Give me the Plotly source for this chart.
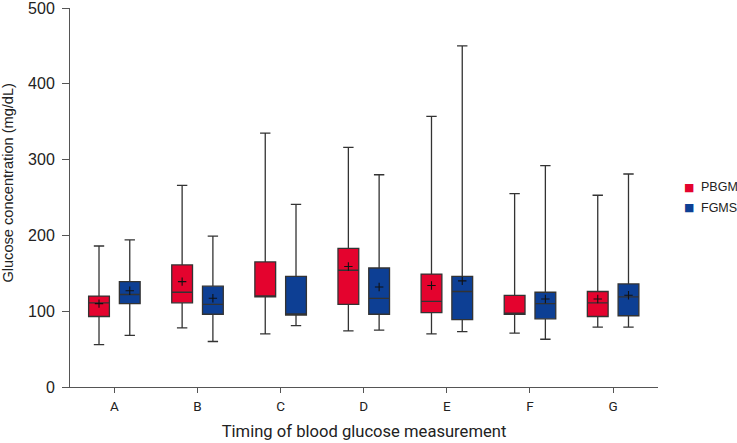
import numpy as np
import plotly.graph_objects as go

categories = ["A", "B", "C", "D", "E", "F", "G"]

pbgm_q1 = [93, 111, 119, 109, 98, 96, 93]
pbgm_median = [111, 125, 119, 154, 113, 96, 111]
pbgm_q3 = [120, 161, 165, 183, 149, 121, 126]
pbgm_low = [56, 78, 70, 74, 70, 71, 79]
pbgm_high = [186, 266, 335, 316, 357, 255, 253]
pbgm_mean = [110, 139, None, 159, 134, None, 116]

fgms_q1 = [110, 96, 95, 96, 89, 90, 94]
fgms_median = [122, 109, 95, 117, 126, 110, 119]
fgms_q3 = [139, 133, 146, 157, 146, 125, 136]
fgms_low = [68, 60, 81, 75, 73, 63, 79]
fgms_high = [194, 199, 241, 280, 450, 292, 281]
fgms_mean = [127, 117, None, 132, 140, 116, 121]

series_names = ["PBGM", "FGMS"]

RED = "#E4032E"
BLUE = "#0D3F94"
LINE = "#333333"

idx = np.arange(len(categories))
off = 0.185
bw = 0.25

fig = go.Figure()

series = [
    (series_names[0], RED, -off, pbgm_q1, pbgm_median, pbgm_q3, pbgm_low, pbgm_high, pbgm_mean),
    (series_names[1], BLUE, off, fgms_q1, fgms_median, fgms_q3, fgms_low, fgms_high, fgms_mean),
]

for name, col, o, q1, med, q3, lo, hi, mean in series:
    xs = idx + o
    fig.add_trace(go.Box(
        x=xs, q1=q1, median=med, q3=q3, lowerfence=lo, upperfence=hi,
        width=bw, fillcolor=col, line=dict(color=LINE, width=1.3),
        whiskerwidth=0.5, name=name, showlegend=False, hoverinfo="skip",
    ))
    mx = [x for x, m in zip(xs, mean) if m is not None]
    my = [m for m in mean if m is not None]
    fig.add_trace(go.Scatter(
        x=mx, y=my, mode="markers", showlegend=False, hoverinfo="skip",
        marker=dict(symbol="cross-thin", size=6, line=dict(color="#111", width=1.1)),
    ))

# legend drawn as text entries (coloured square glyph + label)
legend_ann = []
for i, (name, col) in enumerate(zip(series_names, [RED, BLUE])):
    yv = 0.5277 - i * 0.0554
    legend_ann.append(dict(
        text="■", xref="paper", yref="paper", x=1.0527, y=yv,
        xanchor="center", yanchor="middle", showarrow=False,
        font=dict(family="DejaVu Sans", size=11, color=col),
    ))
    legend_ann.append(dict(
        text=name, xref="paper", yref="paper", x=1.0697, y=yv,
        xanchor="left", yanchor="middle", showarrow=False,
        font=dict(family="Liberation Sans", size=12.5, color="#222"),
    ))

fig.update_layout(
    width=737, height=443,
    margin=dict(l=70, r=79, t=8, b=56, autoexpand=False),
    paper_bgcolor="white", plot_bgcolor="white",
    showlegend=False,
    annotations=[dict(
        text="Glucose concentration (mg/dL)", textangle=-90,
        xref="paper", yref="paper", x=-0.105, y=0.54,
        xanchor="center", yanchor="middle", showarrow=False,
        font=dict(family="Liberation Sans", size=14.6, color="#222"),
    )] + legend_ann,
)

fig.update_xaxes(
    range=[-0.534, 6.54], tickvals=idx, ticktext=categories,
    showgrid=False, zeroline=False, showline=True, linecolor="#555", linewidth=1,
    ticks="outside", ticklen=5, tickcolor="#555", automargin=False,
    ticklabelstandoff=2,
    tickfont=dict(family="Roboto", size=13.5, color="#222"),
    title=dict(text="Timing of blood glucose measurement",
               font=dict(family="Roboto", size=16.6, color="#222"), standoff=12),
)
fig.update_yaxes(
    range=[0, 500], tickvals=[0, 100, 200, 300, 400, 500],
    showgrid=False, zeroline=False, showline=True, linecolor="#555", linewidth=1,
    ticks="outside", ticklen=7, tickcolor="#555", automargin=False,
    ticklabeloverflow="allow", ticklabelstandoff=4,
    tickfont=dict(family="Liberation Sans", size=16, color="#222"),
)

fig.write_html(
    "out.html",
    config={"displayModeBar": False},
    post_script="document.body.style.margin='0';document.body.style.padding='0';",
)
